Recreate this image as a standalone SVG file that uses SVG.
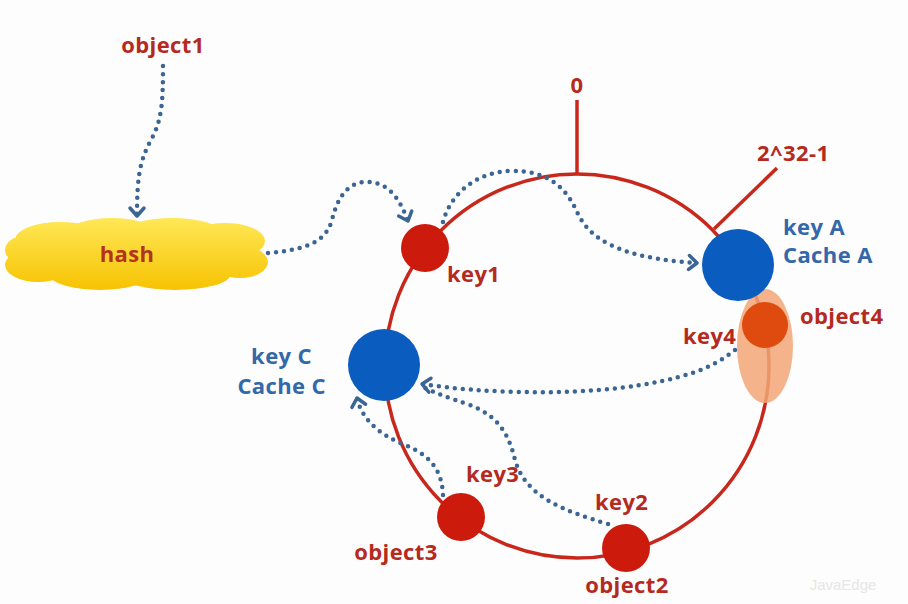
<svg xmlns="http://www.w3.org/2000/svg" width="908" height="604" viewBox="0 0 908 604">
<style>
.t{font-family:"Open Sans","Noto Sans","Liberation Sans",sans-serif;font-weight:bold;font-size:22px;letter-spacing:0.4px}
.r{fill:#b52a1e}
.b{fill:#3468a8}
.dot{fill:none;stroke:#3c6594;stroke-width:4.5;stroke-linecap:round;stroke-dasharray:0 8}
.ring{fill:none;stroke:#c8281c;stroke-width:3.5}
.key{fill:#cc1a0c}
.cache{fill:#0a5cbf}
</style>
<defs>
<linearGradient id="cg" x1="0" y1="215" x2="0" y2="292" gradientUnits="userSpaceOnUse">
<stop offset="0" stop-color="#ffe95a"/>
<stop offset="1" stop-color="#f7c200"/>
</linearGradient>
<marker id="ar" markerUnits="userSpaceOnUse" markerWidth="20" markerHeight="20" refX="0" refY="0" viewBox="-12 -10 16 20" orient="auto">
<path d="M-8,-7 L0,0 L-8,7" fill="none" stroke="#3c6594" stroke-width="3.5" stroke-linecap="round" stroke-linejoin="round"/>
</marker>
</defs>
<rect width="908" height="604" fill="#fdfdfd"/>

<g id="ring">
<circle class="ring" cx="577" cy="366" r="192"/>
<line class="ring" x1="577" y1="100" x2="577" y2="174"/>
<line class="ring" x1="714" y1="229" x2="777" y2="168"/>
<text class="t r" x="577" y="93" text-anchor="middle">0</text>
<text class="t r" x="757" y="161">2^32-1</text>
</g>

<g id="object1"><text class="t r" x="163" y="53" text-anchor="middle">object1</text></g>

<g id="hash">
<g fill="url(#cg)">
<ellipse cx="135" cy="254" rx="122" ry="28"/>
<ellipse cx="60" cy="240" rx="45" ry="18"/>
<ellipse cx="112" cy="233" rx="45" ry="15"/>
<ellipse cx="172" cy="233" rx="50" ry="15"/>
<ellipse cx="225" cy="241" rx="40" ry="18"/>
<ellipse cx="38" cy="265" rx="33" ry="17"/>
<ellipse cx="100" cy="275" rx="50" ry="15"/>
<ellipse cx="175" cy="275" rx="55" ry="15"/>
<ellipse cx="240" cy="262" rx="28" ry="16"/>
<ellipse cx="25" cy="250" rx="20" ry="14"/>
</g>
<text class="t" x="127" y="262" text-anchor="middle" fill="#b5321e">hash</text>
</g>

<g id="object4">
<ellipse cx="765" cy="346" rx="28" ry="57" fill="#f2a676" opacity="0.85"/>
<circle cx="765" cy="325" r="23" fill="#df4a0e"/>
<text class="t r" x="800" y="324">object4</text>
<text class="t r" x="683" y="344">key4</text>
</g>

<g id="cacheA">
<circle class="cache" cx="738" cy="265" r="36"/>
<text class="t b" x="783" y="235">key A</text>
<text class="t b" x="783" y="263">Cache A</text>
</g>

<g id="cacheC">
<circle class="cache" cx="384" cy="365" r="36"/>
<text class="t b" x="312" y="364" text-anchor="end">key C</text>
<text class="t b" x="326" y="394" text-anchor="end">Cache C</text>
</g>

<g id="key1">
<circle class="key" cx="425" cy="248" r="24"/>
<text class="t r" x="447" y="282">key1</text>
</g>

<g id="key3">
<circle class="key" cx="461" cy="517" r="24"/>
<text class="t r" x="466" y="482">key3</text>
<text class="t r" x="396" y="560" text-anchor="middle">object3</text>
</g>

<g id="key2">
<circle class="key" cx="626" cy="548" r="24"/>
<text class="t r" x="595" y="510">key2</text>
<text class="t r" x="627" y="593" text-anchor="middle">object2</text>
</g>

<g id="connectors">
<path class="dot" d="M163,66 C163,100 162,120 152,138 C140,160 137,175 137,216" marker-end="url(#ar)"/>
<path class="dot" d="M268,253 C300,250 325,245 332,220 C338,195 350,180 370,182 C390,184 400,200 408,221" marker-end="url(#ar)"/>
<path class="dot" d="M443,222 C450,195 475,172 510,171 C545,170 565,185 577,212 C590,240 620,258 697,263" marker-end="url(#ar)"/>
<path class="dot" d="M735,350 C710,370 680,380 620,388 C560,395 480,393 422,384" marker-end="url(#ar)"/>
<path class="dot" d="M608,524 C560,510 525,495 515,460 C508,430 495,415 470,405 C450,398 435,393 423,387"/>
<path class="dot" d="M443,495 C442,470 430,455 405,445 C380,435 362,420 357,398" marker-end="url(#ar)"/>
</g>

<text x="843" y="590" text-anchor="middle" font-family="'Liberation Sans',sans-serif" font-size="15" fill="#e6e6e6">JavaEdge</text>
</svg>
